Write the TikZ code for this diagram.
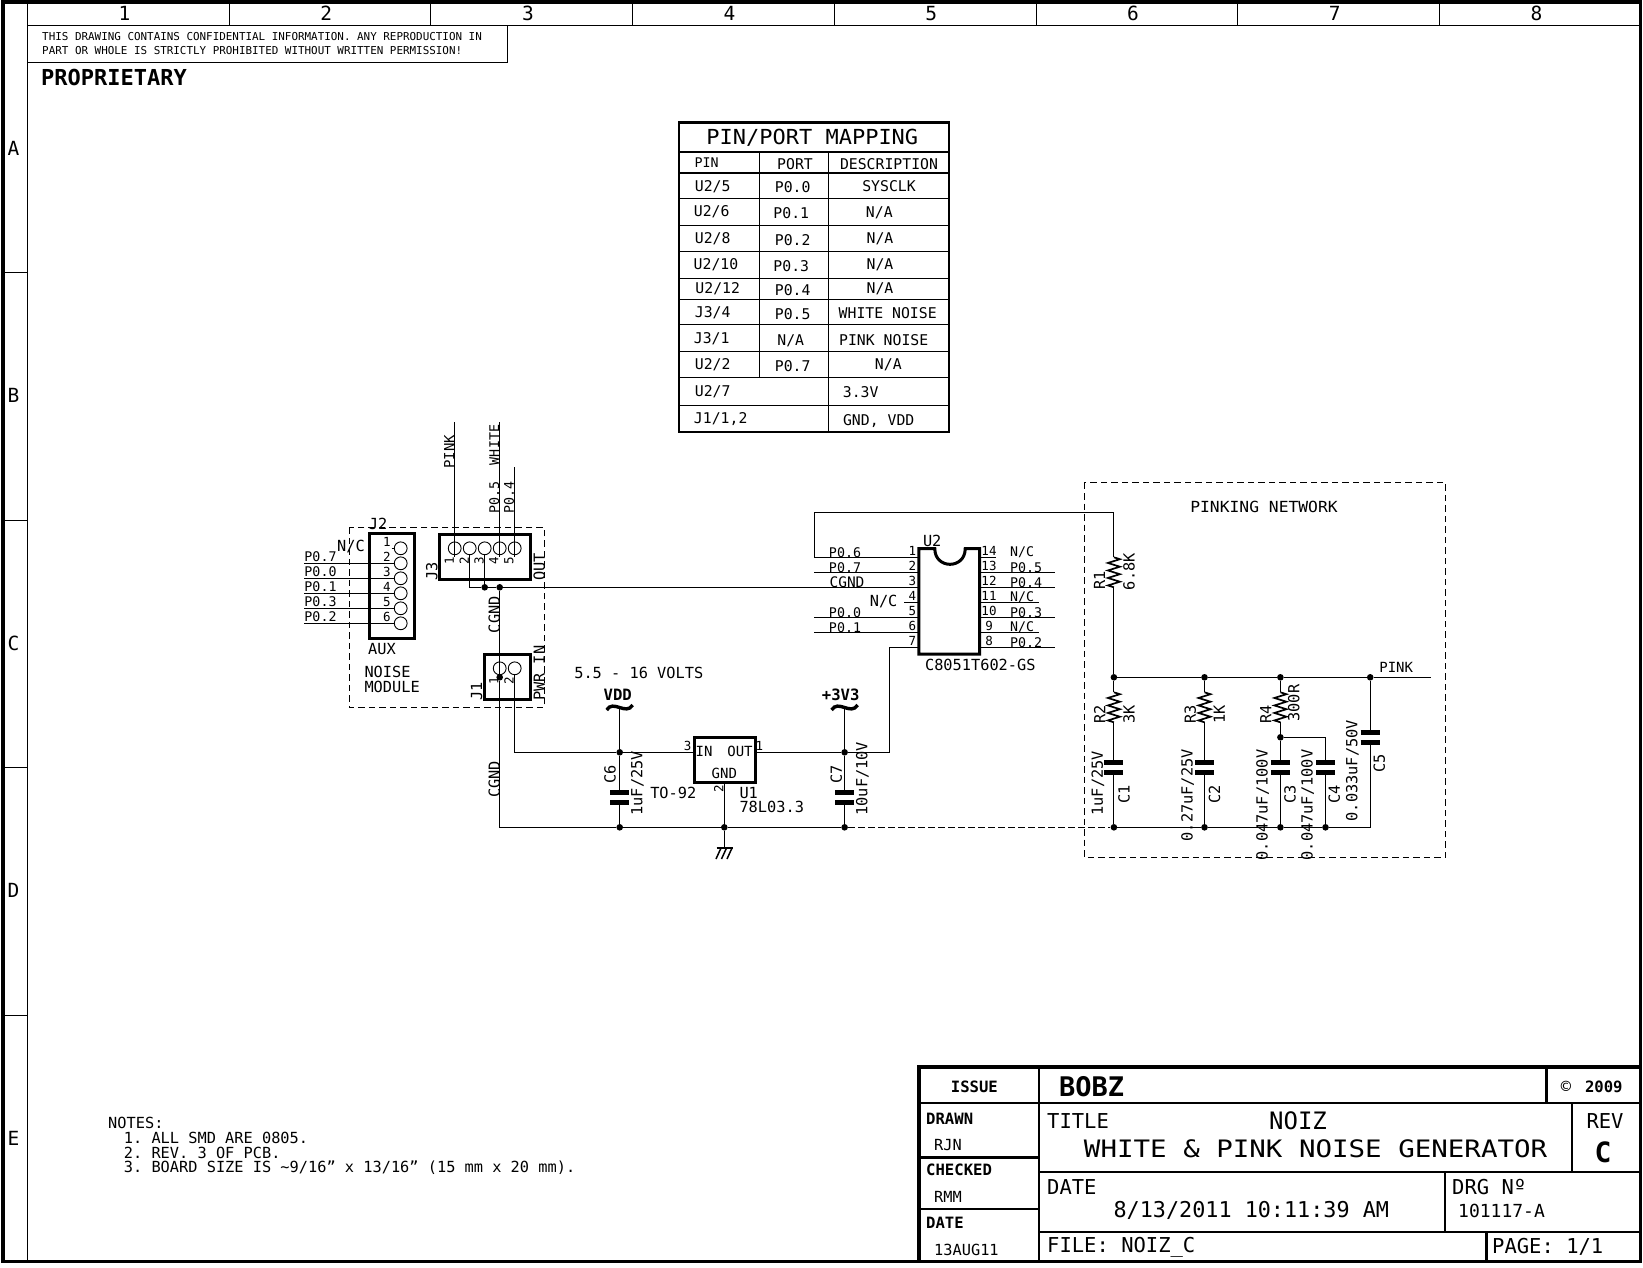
\documentclass[tikz,border=0pt]{standalone}
\usepackage{fontspec}
\setmainfont{DejaVu Sans Mono}
\usetikzlibrary{positioning,calc}
\frenchspacing
\tikzset{
  wire/.style={line width=1.1pt},
  frameline/.style={line width=3.6pt},
  cellline/.style={line width=1pt},
  blockline/.style={line width=2.4pt},
  partbox/.style={line width=3pt},
  plate/.style={line width=5pt},
  tilde/.style={line width=3.4pt},
  zigzag/.style={line width=1.7pt},
  modbox/.style={line width=1pt,dash pattern=on 6.5pt off 4pt},
  pincirc/.style={circle,draw,inner sep=0pt,minimum size=12.8pt,line width=0.9pt},
  junc/.style={circle,fill=black,inner sep=0pt,minimum size=6.6pt},
  lab/.style={inner sep=0pt,font=\fontsize{15.3}{15.3}\selectfont},
  portlab/.style={inner sep=0pt,font=\fontsize{13.3}{13.3}\selectfont},
  pinnum/.style={inner sep=0pt,font=\fontsize{12.5}{12.5}\selectfont},
  tablab/.style={inner sep=0pt,font=\fontsize{14.8}{14.8}\selectfont},
  bigfont/.style={inner sep=0pt,font=\fontsize{20.5}{20.5}\selectfont},
  huge/.style={inner sep=0pt,font=\fontsize{24}{24}\selectfont},
  boldlab/.style={inner sep=0pt,font=\fontsize{15.6}{15.6}\selectfont\bfseries},
  edgelab/.style={inner sep=0pt,font=\fontsize{19.5}{19.5}\selectfont}
}
\begin{document}
\begin{tikzpicture}[x=1pt,y=-1pt]
  \useasboundingbox (0,0) rectangle (1643,1267);
  % Draw sheet frame
  \draw[frameline] (3.2,2) rectangle (1640.5,1261.5);
  \draw[cellline] (27.5,2) -- (27.5,1261.5);
  \draw[cellline] (27.5,25) -- (1640,25);
  \foreach \i in {1,...,7}
    \draw[cellline] ({27.5+201.7*\i},2) -- ({27.5+201.7*\i},25);
  \foreach \i in {1,...,8}
    \node[edgelab] (col\i) at ({124.5+201.7*(\i-1)},13.5) {\i};
  \foreach \i in {1,...,4}
    \draw[cellline] (3.5,{25+247.5*\i}) -- (27.5,{25+247.5*\i});
  \foreach \i/\c in {0/A,1/B,2/C,3/D,4/E}
    \node[edgelab] (row\c) at (13.5,{148+247.5*\i}) {\c};
  % Confidential note
  \draw[cellline] (27.5,62.5) -- (507.5,62.5) -- (507.5,25);
  \node[inner sep=0pt,anchor=west,font=\fontsize{10.9}{10.9}\selectfont] (confa) at (42,37) {THIS DRAWING CONTAINS CONFIDENTIAL INFORMATION. ANY REPRODUCTION IN};
  \node[inner sep=0pt,anchor=west,font=\fontsize{10.9}{10.9}\selectfont] (confb) at (42,51) {PART OR WHOLE IS STRICTLY PROHIBITED WITHOUT WRITTEN PERMISSION!};
  \node[inner sep=0pt,anchor=west,font=\fontsize{22}{22}\selectfont\bfseries] (propr) at (41,77) {PROPRIETARY};
  % Pin/port table
  \draw[blockline] (679,122.3) rectangle (949,431.7);
  \draw[blockline] (679,151.7) -- (949,151.7);
  \draw[blockline] (679,172.7) -- (949,172.7);
  \foreach \y in {198.3,225.7,251.7,278.3,299.3,324.3,351.3,377.3,405.3}
    \draw[cellline] (679,\y) -- (949,\y);
  \draw[cellline] (759.3,151.7) -- (759.3,377.3);
  \draw[cellline] (828.3,151.7) -- (828.3,431.7);
  \node[inner sep=0pt,xscale=1.0625,font=\fontsize{20.7}{20.7}\selectfont] (tabtitle) at (812.3,137.3) {PIN/PORT MAPPING};
  \node[inner sep=0pt,font=\fontsize{13.3}{13.3}\selectfont] (tabpin) at (706.7,162.3) {PIN};
  \foreach \n/\x/\y/\txt in {
    a/795/163.7/PORT,b/889/163.7/DESCRIPTION,
    c/712.7/186.7/{U2/5},d/792.7/187.3/P0.0,e/889/186.3/SYSCLK,
    f/711.7/212/{U2/6},g/791.3/213.3/P0.1,h/879.3/212.3/{N/A},
    i/712.7/238.3/{U2/8},j/792.7/240/P0.2,k/880/238.3/{N/A},
    l/716/264.3/{U2/10},m/791.3/265.7/P0.3,n/880/264.3/{N/A},
    o/717.7/288.3/{U2/12},p/792.7/290/P0.4,q/880/289/{N/A},
    r/712.7/312.3/{J3/4},s/792.7/314/P0.5,t/887.7/313.3/WHITE NOISE,
    u/711.7/338.7/{J3/1},v/790.7/340.7/{N/A},w/883.7/339.7/PINK NOISE,
    x/712.7/364.7/{U2/2},y/792.7/366/P0.7,z/888.3/365/{N/A},
    aa/712.7/391.3/{U2/7},ab/860.7/391.7/3.3V,
    ac/720.7/419/{J1/1,2},ad/878.7/420.7/{GND, VDD}}
    \node[tablab] (tab\n) at (\x,\y) {\txt};
  % Noise module
  \draw[modbox] (349.3,527.3) rectangle (544.3,707.3);
  \node[lab,anchor=west] (noisea) at (364.3,672.3) {NOISE};
  \node[lab,anchor=west] (noiseb) at (364.3,687) {MODULE};
  % J2
  \draw[partbox] (369.3,533.3) rectangle (414.7,638.7);
  \node[lab] (jtwolab) at (378,524) {J2};
  \node[lab] (auxlab) at (382,648.7) {AUX};
  \node[lab] (jtwonc) at (351,546.7) {N/C};
  \foreach \n/\y in {1/548.3,2/563.3,3/578.3,4/593.3,5/608.3,6/623.3}{
    \node[pincirc] (jtwo\n) at (400.7,\y) {};
    \node[pinnum] (jtwonum\n) at (387,\y-6.3) {\n};
  }
  \coordinate (jtwostub) at (391.7,548.3);
  \draw[wire] (jtwostub) -- (jtwo1);
  \foreach \n/\y/\txt in {2/563.3/P0.7,3/578.3/P0.0,4/593.3/P0.1,5/608.3/P0.3,6/623.3/P0.2}{
    \coordinate (jtwoend\n) at (304,\y);
    \draw[wire] (jtwoend\n) -- (jtwo\n);
    \node[portlab] (jtwoport\n) at (320.5,\y-6.7) {\txt};
  }
  % J3
  \draw[partbox] (439,534.3) rectangle (530,579.3);
  \node[lab,rotate=90] (jthreelab) at (431.7,571.7) {J3};
  \node[lab,rotate=90] (outlab) at (539.3,567) {OUT};
  \foreach \n/\x/\xn in {1/454.7/449.3,2/469.7/464.3,3/484.7/479,4/499.7/493.7,5/514.7/509}{
    \node[pincirc] (jthree\n) at (\x,548.3) {};
    \node[pinnum,rotate=90] (jthreenum\n) at (\xn,560.7) {\n};
  }
  \coordinate (pinkend) at (454.7,422.3);
  \coordinate (pinkpin) at (454.7,557.3);
  \coordinate (whiteend) at (499.7,422.3);
  \coordinate (whitepin) at (499.7,557.3);
  \coordinate (pfourend) at (514.7,467.3);
  \coordinate (pfourpin) at (514.7,557.3);
  \draw[wire] (pinkend) -- (pinkpin);
  \draw[wire] (whiteend) -- (whitepin);
  \draw[wire] (pfourend) -- (pfourpin);
  \node[portlab,font=\fontsize{14}{14}\selectfont,rotate=90] (pinklab) at (449.3,451.7) {PINK};
  \node[portlab,rotate=90] (whitelab) at (494.3,469) {P0.5\ \ WHITE};
  \node[portlab,rotate=90] (pfourlab) at (509,497) {P0.4};
  \node[lab,rotate=90] (cgnda) at (494.3,614.7) {CGND};
  % J1
  \draw[partbox] (484,654.3) rectangle (530,699.3);
  \node[pincirc] (jonea) at (499.7,668.3) {};
  \node[pincirc] (joneb) at (514.7,668.3) {};
  \node[pinnum,rotate=90] (jonenuma) at (493.7,680.7) {1};
  \node[pinnum,rotate=90] (jonenumb) at (509,680.7) {2};
  \node[lab,rotate=90] (jonelab) at (476.7,691.7) {J1};
  \node[lab,rotate=90] (pwrlab) at (539.3,673.3) {PWR IN};
  \node[lab,rotate=90] (cgndb) at (494.3,779.3) {CGND};
  \node[lab] (voltlab) at (638.8,672.7) {5.5 - 16 VOLTS};
  % Junctions
  \foreach \n/\x/\y in {cga/484.7/587.3,cgb/499.7/587.3,jon/499.7/677.3,
    vda/619.7/752.3,vdb/619.7/827.3,gnd/724.3/827.3,vca/844.6/752.3,vcb/844.6/827.3,
    pa/1113.9/677.3,pb/1204.5/677.3,pc/1280.4/677.3,pd/1370.2/677.3,rc/1280.4/737.3,
    ga/1113.9/827.3,gb/1204.5/827.3,gc/1280.4/827.3,gd/1325.5/827.3}
    \node[junc] (\n) at (\x,\y) {};
  % CGND wiring
  \draw[wire] (jthree2) |- (cga);
  \draw[wire] (jthree3) -- (cga);
  \draw[wire] (cga) -- (cgb);
  \draw[wire] (cgb) -- (jon);
  \draw[wire] (jon) |- (vdb);
  \draw[wire] (vdb) -- (gnd);
  \draw[wire] (gnd) -- (vcb);
  \draw[wire,dash pattern=on 6.5pt off 3.5pt] (vcb) -- (ga);
  \draw[wire] (joneb) |- (vda);
  % Supply symbols
  \node[boldlab] (vddlab) at (617.7,695) {VDD};
  \node[boldlab] (vcclab) at (840.7,695) {+3V3};
  \coordinate (vddsym) at (619.7,707.5);
  \coordinate (vccsym) at (844.6,707.5);
  \draw[tilde] (606.7,710) .. controls (613,699) and (626,716) .. (632.7,705);
  \draw[tilde] (831.6,710) .. controls (838,699) and (851,716) .. (857.6,705);
  \draw[wire] (vddsym) -- (vda);
  \draw[wire] (vccsym) -- (vca);
  % Regulator
  \node[draw,partbox,minimum width=61pt,minimum height=45pt,inner sep=0pt] (uone) at (724.5,759.8) {};
  \node[portlab,font=\fontsize{14}{14}\selectfont] (uonein) at (704,751.7) {IN};
  \node[portlab,font=\fontsize{14}{14}\selectfont] (uoneout) at (740,751.7) {OUT};
  \node[portlab,font=\fontsize{14}{14}\selectfont] (uonegnd) at (724.3,773.3) {GND};
  \node[pinnum] (uonepc) at (687.7,745.7) {3};
  \node[pinnum] (uonepa) at (759.3,745.7) {1};
  \node[pinnum,rotate=90] (uonepb) at (718.7,789) {2};
  \node[lab] (tolab) at (673.3,792.7) {TO-92};
  \node[lab,anchor=west] (uonelab) at (739.3,792.7) {U1};
  \node[lab,anchor=west] (uonetype) at (739.3,807.3) {78L03.3};
  \draw[wire] (vda) -- (uone.west |- vda);
  \draw[wire] (uone.east |- vca) -- (vca);
  \draw[wire] (uone.south -| gnd) -- (gnd);
  % Ground symbol
  \coordinate (gndsym) at (724.3,848);
  \draw[wire] (gnd) -- (gndsym);
  \draw[line width=2pt] (716.5,848) -- (733,848);
  \draw[line width=1.5pt] (721,848) -- (716,859);
  \draw[line width=1.5pt] (726.5,848) -- (721.5,859);
  \draw[line width=1.5pt] (732,848) -- (727,859);
  % U2
  \draw[partbox] (934.8,548.7) .. controls (934.8,569.5) and (965.2,569.5) .. (965.2,548.7)
    -- (979.5,548.7) -- (979.5,654) -- (918.8,654) -- (918.8,548.7) -- cycle;
  \node[lab] (utwolab) at (932.2,541) {U2};
  \node[lab] (utwotype) at (980.3,665) {C8051T602-GS};
  \foreach \n/\y in {1/557.3,2/572.3,3/587.3,4/602.3,5/617.3,6/632.3,7/647.3}{
    \coordinate (ul\n) at (918.8,\y);
    \node[pinnum] (ulnum\n) at (912.3,\y-6.3) {\n};
  }
  \foreach \n/\y/\xe in {14/557.3/995.5,13/572.3/1054.5,12/587.3/1054.5,11/602.3/1038.9,10/617.3/1054.5,9/632.3/1038.9,8/647.3/1054.5}{
    \coordinate (ur\n) at (979.5,\y);
    \coordinate (urend\n) at (\xe,\y);
    \draw[wire] (ur\n) -- (urend\n);
    \node[pinnum] (urnum\n) at (989,\y-6.3) {\n};
  }
  \foreach \n/\y/\txt in {14/552.3/{N/C},13/567.3/P0.5,12/582.3/P0.4,11/597.3/{N/C},10/612.3/P0.3,9/627.3/{N/C},8/642.3/P0.2}
    \node[portlab,anchor=west] (urlab\n) at (1009.8,\y) {\txt};
  \coordinate (ulend1) at (814.3,557.3);
  \coordinate (ulend2) at (814.3,572.3);
  \coordinate (ulend4) at (903.6,602.3);
  \coordinate (ulend5) at (814.3,617.3);
  \coordinate (ulend6) at (814.3,632.3);
  \coordinate (bendu) at (889.3,752.3);
  \draw[wire] (ul2) -- (ulend2);
  \draw[wire] (cgb) -- (ul3);
  \draw[wire] (ul4) -- (ulend4);
  \draw[wire] (ul5) -- (ulend5);
  \draw[wire] (ul6) -- (ulend6);
  \draw[wire] (vca) -- (bendu) |- (ul7);
  \node[portlab] (ullab1) at (845,552.3) {P0.6};
  \node[portlab] (ullab2) at (845,567.3) {P0.7};
  \node[portlab,font=\fontsize{14.5}{14.5}\selectfont] (ullab3) at (847,582.3) {CGND};
  \node[lab] (ullab4) at (883.6,601.7) {N/C};
  \node[portlab] (ullab5) at (845,612.7) {P0.0};
  \node[portlab] (ullab6) at (845,627.3) {P0.1};
  % Pinking network
  \draw[modbox] (1084.4,482.7) rectangle (1445.6,857.3);
  \node[lab,xscale=1.067] (pinknet) at (1264,506.7) {PINKING NETWORK};
  \coordinate (looptop) at (1113.9,512.3);
  \coordinate (pinkout) at (1430.5,677.3);
  \node[portlab,font=\fontsize{14}{14}\selectfont] (pinkoutlab) at (1396.2,667.7) {PINK};
  \draw[wire] (ul1) -- (ulend1) |- (looptop);
  \draw[wire] (pa) -- (pb);
  \draw[wire] (pb) -- (pc);
  \draw[wire] (pc) -- (pd);
  \draw[wire] (pd) -- (pinkout);
  \draw[wire] (ga) -- (gb);
  \draw[wire] (gb) -- (gc);
  \draw[wire] (gc) -- (gd);
  % Resistors
  \foreach \n/\x/\yt/\up/\dn in {1/1113.9/557.3/looptop/pa,2/1113.9/692.3/pa/ga,3/1204.5/692.3/pb/gb,4/1280.4/692.3/pc/rc}{
    \coordinate (rtop\n) at (\x,\yt);
    \coordinate (rbot\n) at (\x,\yt+30);
    \draw[zigzag] (rtop\n) -- ++(6,1.9) -- ++(-12,3.75) -- ++(12,3.75) -- ++(-12,3.75) -- ++(12,3.75)
      -- ++(-12,3.75) -- ++(12,3.75) -- ++(-12,3.75) -- (rbot\n);
    \draw[wire] (\up) -- (rtop\n);
  }
  \draw[wire] (rbot1) -- (pa);
  \draw[wire] (rbot4) -- (rc);
  % Capacitors
  \foreach \n/\x/\yt in {1/1113.9/762.7,2/1204.5/762.7,3/1280.4/762.7,4/1325.5/762.7,5/1370.2/732.7,6/619.7/792.3,7/844.6/792.3}{
    \coordinate (ctop\n) at (\x,\yt);
    \coordinate (cbot\n) at (\x,\yt+10);
    \draw[plate] ([xshift=-9.5pt]ctop\n) -- ([xshift=9.5pt]ctop\n);
    \draw[plate] ([xshift=-9.5pt]cbot\n) -- ([xshift=9.5pt]cbot\n);
  }
  \draw[wire] (rbot2) -- (ctop1);
  \draw[wire] (cbot1) -- (ga);
  \draw[wire] (rbot3) -- (ctop2);
  \draw[wire] (cbot2) -- (gb);
  \draw[wire] (rc) -- (ctop3);
  \draw[wire] (cbot3) -- (gc);
  \draw[wire] (rc) -| (ctop4);
  \draw[wire] (cbot4) -- (gd);
  \draw[wire] (pd) -- (ctop5);
  \draw[wire] (gd) -| (cbot5);
  \draw[wire] (vda) -- (ctop6);
  \draw[wire] (cbot6) -- (vdb);
  \draw[wire] (vca) -- (ctop7);
  \draw[wire] (cbot7) -- (vcb);
  % Part labels
  \foreach \n/\x/\y/\txt in {
    ra/1099.6/580/R1,rb/1129/571.7/6.8K,rc/1099.6/714/R2,rd/1129/714/3K,
    re/1190.2/714/R3,rf/1219.3/714/1K,rg/1265.7/714/R4,rh/1293.9/703/300R,
    ca/1124/794/C1,cb/1097.9/783.3/{1uF/25V},cc/1214.5/794/C2,cd/1187.6/795.3/{0.27uF/25V},
    ce/1290/794/C3,cf/1262.7/805/{0.047uF/100V},cg/1334.2/794/C4,ch/1307.7/805/{0.047uF/100V},
    ci/1379.3/763.3/C5,cj/1352.4/770.7/{0.033uF/50V},
    ck/610/774/C6,cl/637.3/783.3/{1uF/25V},cm/836.4/774/C7,cn/862.4/778.7/{10uF/10V}}
    \node[lab,rotate=90] (part\n) at (\x,\y) {\txt};
  % Notes
  \node[lab,anchor=west] (notea) at (108,1123) {NOTES:};
  \node[lab,anchor=west] (noteb) at (123.7,1137.6) {1. ALL SMD ARE 0805.};
  \node[lab,anchor=west] (notec) at (123.7,1153) {2. REV. 3 OF PCB.};
  \node[lab,anchor=west] (noted) at (123.7,1168) {3. BOARD SIZE IS \textasciitilde 9/16" x 13/16" (15 mm x 20 mm).};
  % Title block
  \draw[frameline] (919,1261.5) -- (919,1066.7) -- (1640,1066.7);
  \draw[blockline] (1038.9,1066.7) -- (1038.9,1261.5);
  \draw[blockline] (919,1102.7) -- (1640,1102.7);
  \draw[blockline] (1546.5,1066.7) -- (1546.5,1102.7);
  \draw[blockline] (919,1157.3) -- (1038.9,1157.3);
  \draw[blockline] (919,1208.7) -- (1038.9,1208.7);
  \draw[blockline] (1038.9,1171.7) -- (1640,1171.7);
  \draw[blockline] (1038.9,1232) -- (1640,1232);
  \draw[blockline] (1572,1102.7) -- (1572,1171.7);
  \draw[blockline] (1445,1171.7) -- (1445,1232);
  \draw[blockline] (1486.3,1232) -- (1486.3,1261.5);
  \node[boldlab] (issue) at (974.4,1086.7) {ISSUE};
  \node[inner sep=0pt,anchor=west,font=\fontsize{27}{27}\selectfont\bfseries] (bobz) at (1058.8,1087) {BOBZ};
  \node[inner sep=0pt,font=\fontsize{17}{17}\selectfont] (copysym) at (1565.9,1087) {©};
  \node[boldlab] (year) at (1603.8,1087) {2009};
  \foreach \n/\y/\txt in {a/1119/DRAWN,b/1170/CHECKED,c/1222.7/DATE}
    \node[boldlab,anchor=west] (left\n) at (926,\y) {\txt};
  \foreach \n/\y/\txt in {a/1145/RJN,b/1196.7/RMM,c/1250/13AUG11}
    \node[lab,anchor=west] (sign\n) at (934,\y) {\txt};
  \node[bigfont,anchor=west] (titlelab) at (1047,1120.7) {TITLE};
  \node[huge] (titlea) at (1298,1120.7) {NOIZ};
  \node[huge,xscale=1.145] (titleb) at (1315.6,1149) {WHITE \& PINK NOISE GENERATOR};
  \node[bigfont] (revlab) at (1605,1120.7) {REV};
  \node[inner sep=0pt,font=\fontsize{28}{28}\selectfont\bfseries] (revval) at (1603,1152.7) {C};
  \node[bigfont,anchor=west] (datelab) at (1047,1187.3) {DATE};
  \node[inner sep=0pt,anchor=west,font=\fontsize{21.8}{21.8}\selectfont] (dateval) at (1113.3,1210.7) {8/13/2011 10:11:39 AM};
  \node[bigfont,anchor=west] (drglab) at (1452,1187.3) {DRG Nº};
  \node[inner sep=0pt,anchor=west,font=\fontsize{18}{18}\selectfont] (drgval) at (1458,1210.7) {101117-A};
  \node[bigfont,anchor=west] (filelab) at (1047,1247) {FILE: NOIZ\_C};
  \node[bigfont,anchor=west] (pagelab) at (1492,1247) {PAGE: 1/1};
\end{tikzpicture}
\end{document}
